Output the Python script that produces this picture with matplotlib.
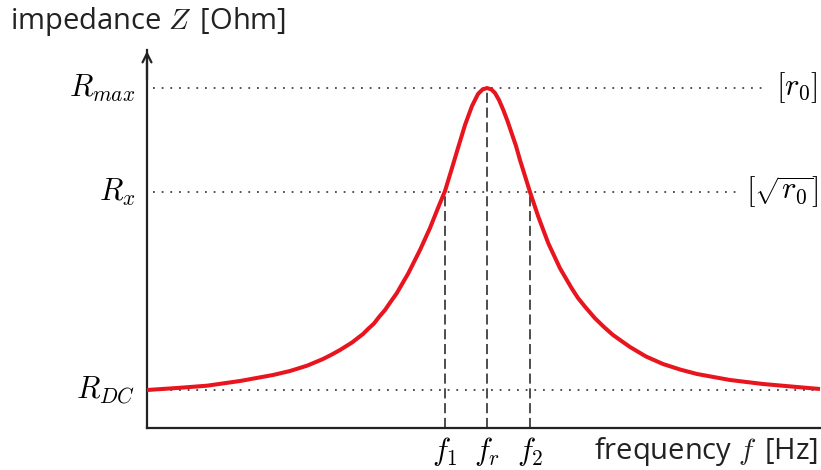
import matplotlib
matplotlib.use('Agg')
import matplotlib.pyplot as plt

plt.rcParams['font.family'] = ['Open Sans', 'DejaVu Sans']
plt.rcParams['mathtext.fontset'] = 'cm'

# resonance curve, values (arbitrary units)
freq = [0, 30, 60, 93, 126, 143, 160, 176, 184.5, 193, 205, 216, 221, 227, 232, 238,
        243.5, 249.7, 261.3, 273, 283, 291, 298, 305, 311, 318, 325, 331, 335.5, 340,
        344.5, 348, 352, 356.3, 360.5, 364.7, 369, 373, 378, 383, 391.3, 401.3,
        413, 424.7, 431, 438, 448, 457, 466, 474.5, 483, 499, 516, 533, 550, 583,
        616, 650, 673]
impedance = [38, 40, 42.3, 47, 53, 57, 62.3, 69, 73.3, 78, 85.5, 94, 99, 104.5, 111, 118,
             126, 134.7, 154.7, 178, 200, 220, 237, 260, 280, 303, 322, 334, 338.5, 340,
             338.5, 335, 328, 318, 307, 294.7, 282, 268, 252, 236, 211.3, 184.7,
             159.7, 139.7, 130, 121.3, 109.7, 101, 93, 87, 81, 71.5, 64, 58.5, 54, 48,
             44, 41, 39]

R_DC = 38
R_x = 236
R_max = 340
f1 = 298
fr = 340
f2 = 383

x_max = 673
y_max = 378

fig = plt.figure(figsize=(8.21, 4.70), dpi=100)
ax = fig.add_axes([147 / 821, 42 / 470, 673 / 821, 378 / 470])
ax.set_xlim(0, x_max)
ax.set_ylim(0, y_max)
ax.set_xticks([])
ax.set_yticks([])
ax.spines['top'].set_visible(False)
ax.spines['right'].set_visible(False)
for s in ['left', 'bottom']:
    ax.spines[s].set_linewidth(1.6)
    ax.spines[s].set_color('#222222')
ax.patch.set_alpha(0)

# arrow on the y axis
ax.annotate('', xy=(0, y_max - 1), xytext=(0, y_max - 30),
            arrowprops=dict(arrowstyle='->', lw=1.6, color='#222222', mutation_scale=16,
                            shrinkA=0, shrinkB=0), annotation_clip=False)

# dotted levels
dot = dict(color='#444444', lw=1.3, linestyle=(0, (1, 3.8)))
ax.plot([6, 616], [R_max, R_max], **dot)
ax.plot([6, 593], [R_x, R_x], **dot)
ax.plot([6, x_max], [R_DC, R_DC], **dot)

# dashed frequency markers
dash = dict(color='#4d4d4d', lw=1.4, linestyle=(0, (5.2, 2.4)))
ax.plot([fr, fr], [0, R_max], **dash)
ax.plot([f1, f1], [0, R_x], **dash)
ax.plot([f2, f2], [0, R_x], **dash)

ax.plot(freq, impedance, color='#e8141e', lw=2.9, solid_capstyle='butt',
        solid_joinstyle='round', clip_on=False, zorder=5)

# labels
ms = 22
ax.text(-12, R_max, r'$R_{max}$', ha='right', va='center', fontsize=ms)
ax.text(-12, R_x, r'$R_x$', ha='right', va='center', fontsize=ms)
ax.text(-12, R_DC, r'$R_{DC}$', ha='right', va='center', fontsize=ms)
ax.text(x_max - 2, R_max, r'$[r_0]$', ha='right', va='center', fontsize=ms)
ax.text(x_max - 2, R_x, r'$[\sqrt{r_0}]$', ha='right', va='center', fontsize=ms)

for f, lab in zip([f1, fr, f2], [r'$f_1$', r'$f_r$', r'$f_2$']):
    ax.text(f, -24, lab, ha='center', va='center', fontsize=ms)

ax.text(x_max - 2, -24, r'frequency $f\,$ [Hz]', ha='right', va='center', fontsize=21, color='#222222')
ax.text(-137, 406, r'impedance $Z\,$ [Ohm]', ha='left', va='center', fontsize=21, color='#222222')

fig.savefig('out.png', dpi=100)
